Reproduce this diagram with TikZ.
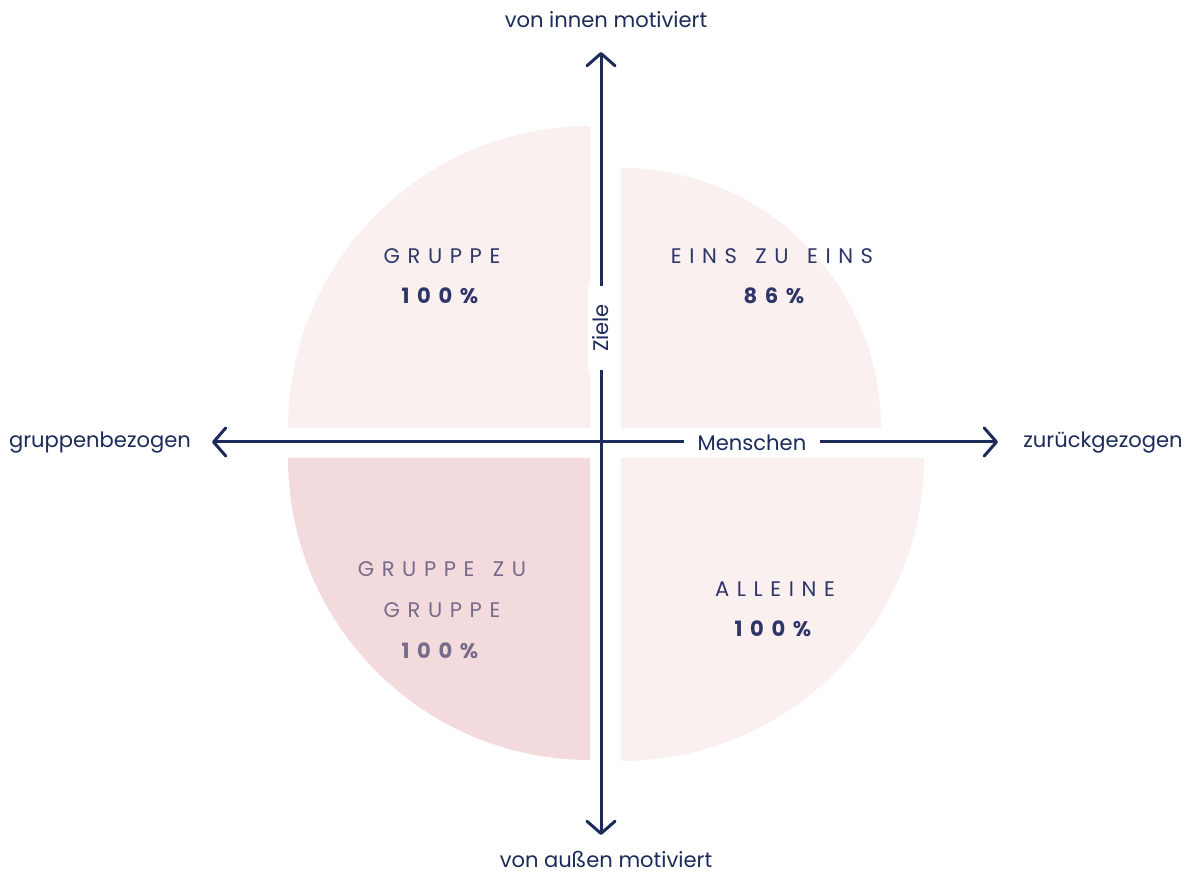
\documentclass[tikz,border=0pt]{standalone}
\usepackage{fontspec}
\setmainfont{Poppins}
\newfontfamily\spacedfont[LetterSpace=36,WordSpace=1.4]{Poppins}
\usetikzlibrary{arrows.meta,positioning}
\definecolor{navy}{HTML}{1C2B5A}
\definecolor{quadtext}{HTML}{2E3568}
\definecolor{mutedtext}{HTML}{776B8B}
\definecolor{softpink}{HTML}{FBF0F0}
\definecolor{rosepink}{HTML}{F3DBDD}

\begin{document}
\begin{tikzpicture}[x=0.02cm,y=0.02cm,
        barb/.tip={Straight Barb[length=7pt,width=16pt,line cap=round,line join=round]},
        axis/.style={draw=navy,line width=1.7pt,barb-barb},
        axis label/.style={text=navy,font=\fontsize{12}{14}\selectfont,inner sep=0pt},
        axis tag/.style={axis label,fill=white,inner ysep=3pt},
        quad label/.style={text=quadtext,font=\spacedfont\fontsize{12}{14}\selectfont,inner sep=0pt},
        quad pct/.style={quad label,font=\spacedfont\bfseries\fontsize{12}{14}\selectfont}]
        \useasboundingbox (0,0) rectangle (1199,874);
        % quadrants
        \fill[softpink] (590,446) -- (288,446) arc[start angle=180,end angle=90,radius=302] -- cycle;
        \fill[softpink] (621,446) -- (621,706) arc[start angle=90,end angle=0,radius=260] -- cycle;
        \fill[rosepink] (590,416) -- (590,114) arc[start angle=270,end angle=180,radius=302] -- cycle;
        \fill[softpink] (621,416) -- (924,416) arc[start angle=0,end angle=-90,radius=303] -- cycle;
        % axes
        \coordinate (top) at (601,822);
        \coordinate (bottom) at (601,39);
        \coordinate (left) at (212,432);
        \coordinate (right) at (998,432);
        \draw[axis] (bottom) -- (top);
        \draw[axis] (left) -- (right);
        \node[axis tag,rotate=90,inner xsep=10pt] (ziele) at (601,546) {Ziele};
        \node[axis tag,inner xsep=8pt] (menschen) at (752,431) {Menschen};
        \node[axis label] (innen) at (606,854) {von innen motiviert};
        \node[axis label] (aussen) at (606,15) {von außen motiviert};
        \node[axis label] (gruppen) at (100,431) {gruppenbezogen};
        \node[axis label] (zurueck) at (1103,431) {zurückgezogen};
        % quadrant labels
        \node[quad label] (gruppe) at (442,618) {GRUPPE};
        \node[quad pct] (gruppepct) at (440,578) {100\%};
        \node[quad label] (eins) at (772,618) {EINS ZU EINS};
        \node[quad pct] (einspct) at (774,578) {86\%};
        \node[quad label,text=mutedtext] (gzg1) at (442,305) {GRUPPE ZU};
        \node[quad label,text=mutedtext] (gzg2) at (442,264) {GRUPPE};
        \node[quad pct,text=mutedtext] (gzgpct) at (440,223) {100\%};
        \node[quad label] (alleine) at (775,285) {ALLEINE};
        \node[quad pct] (alleinepct) at (773,245) {100\%};
\end{tikzpicture}
\end{document}
